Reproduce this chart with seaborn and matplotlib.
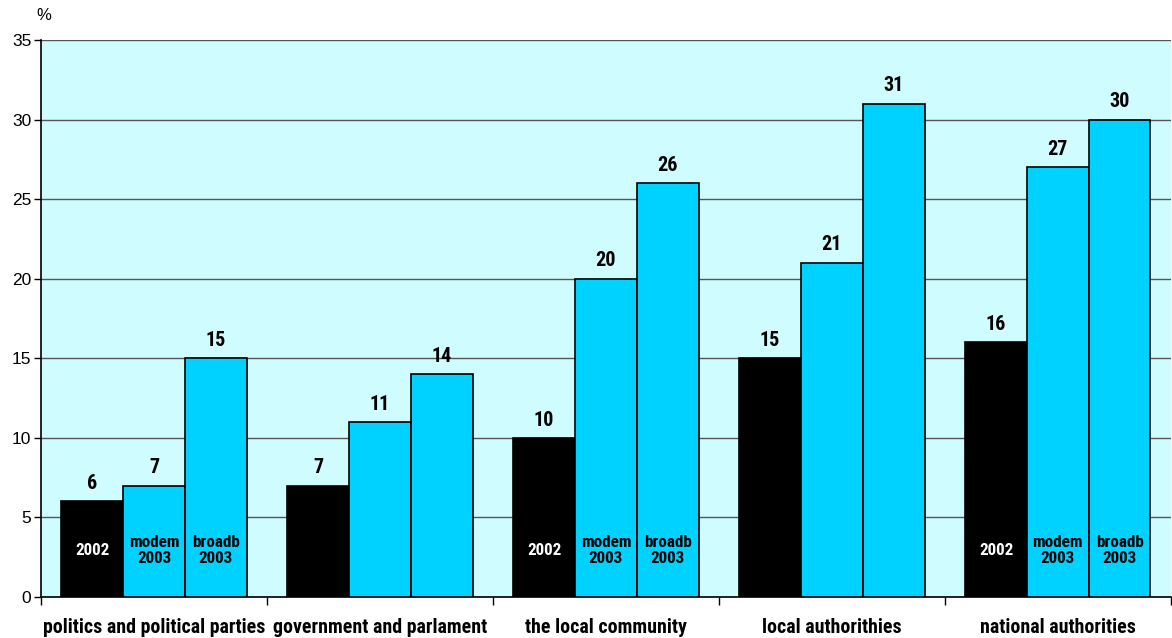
import matplotlib
matplotlib.use("Agg")
import matplotlib.pyplot as plt
from matplotlib import font_manager
import seaborn as sns
import pandas as pd

categories = ["politics and political parties", "government and parlament",
              "the local community", "local authorithies", "national authorities"]
series = ["2002", "modem 2003", "broadb 2003"]
values_2002 = [6, 7, 10, 15, 16]
values_modem = [7, 11, 20, 21, 27]
values_broadb = [15, 14, 26, 31, 30]
y_ticks = [0, 5, 10, 15, 20, 25, 30, 35]

# groups that carry the in-bar series captions
captioned = [0, 2, 4]
captions = ["2002", "modem\n2003", "broadb\n2003"]

df = pd.DataFrame({
    "category": categories * 3,
    "series": [s for s in series for _ in categories],
    "value": values_2002 + values_modem + values_broadb,
})

sns.set_style("white")
plt.rcParams["font.family"] = ["Liberation Sans", "DejaVu Sans"]
plt.rcParams["text.color"] = "black"
plt.rcParams["xtick.color"] = "black"
plt.rcParams["ytick.color"] = "black"

# pick a narrow face for the bold labels when one is installed
installed = {f.name for f in font_manager.fontManager.ttflist}
narrow_name = None
for cand in ["Liberation Sans Narrow", "DejaVu Sans Condensed", "Roboto Condensed",
             "Open Sans Condensed", "Roboto"]:
    if cand in installed:
        narrow_name = cand
        break
if narrow_name is None:
    narrow_name = "DejaVu Sans"
narrow = [narrow_name, "DejaVu Sans"]
scale = 1.0 if ("Narrow" in narrow_name or "Condensed" in narrow_name) else 0.88

fig = plt.figure(figsize=(11.72, 6.38), dpi=100)
ax = fig.add_axes([0.035, 0.0643, 0.964, 0.873])
ax.set_facecolor("#CFFCFF")

sns.barplot(data=df, x="category", y="value", hue="series", order=categories,
            hue_order=series, palette=["#000000", "#00D2FF", "#00D2FF"],
            edgecolor="black", linewidth=1.2, width=0.82, saturation=1,
            legend=False, ax=ax, zorder=3)

ax.set_ylim(0, 35)
ax.set_xlim(-0.5, len(categories) - 0.5)
ax.set_yticks(y_ticks)
ax.set_yticklabels([str(t) for t in y_ticks], fontsize=12.5, color="black")
ax.yaxis.grid(True, color="#555555", linewidth=1.0, zorder=0)
ax.set_axisbelow(True)
for s in ["top", "right"]:
    ax.spines[s].set_visible(False)
ax.spines["left"].set_color("black")
ax.spines["bottom"].set_color("black")
ax.spines["left"].set_linewidth(1.2)
ax.spines["bottom"].set_linewidth(1.2)
ax.tick_params(axis="y", length=5, width=1, color="black", direction="out", left=True, pad=2)

# category tick marks sit between groups
ax.set_xticks([i - 0.5 for i in range(len(categories) + 1)], minor=True)
ax.tick_params(axis="x", which="minor", length=6, width=1, color="black", bottom=True)
ax.tick_params(axis="x", which="major", length=0, pad=15)
ax.set_xticks(range(len(categories)))
ax.set_xticklabels(categories, fontsize=14.3 * scale, fontweight="bold", family=narrow,
                   color="black")
ax.set_xlabel("")
ax.set_ylabel("")

for cont in ax.containers:
    ax.bar_label(cont, fmt="%d", padding=6, fontsize=14.5 * scale, fontweight="bold",
                 family=narrow, color="black")

for k, cont in enumerate(ax.containers):
    for i in captioned:
        bar = cont.patches[i]
        ax.text(bar.get_x() + bar.get_width() / 2, 2.9, captions[k],
                ha="center", va="center", fontsize=12.3 * scale, fontweight="bold",
                family=narrow, color="white" if k == 0 else "black",
                linespacing=1.1, zorder=5)

fig.text(0.031, 0.975, "%", fontsize=12, ha="left", va="center", color="black")

fig.savefig("out.png", dpi=100)
